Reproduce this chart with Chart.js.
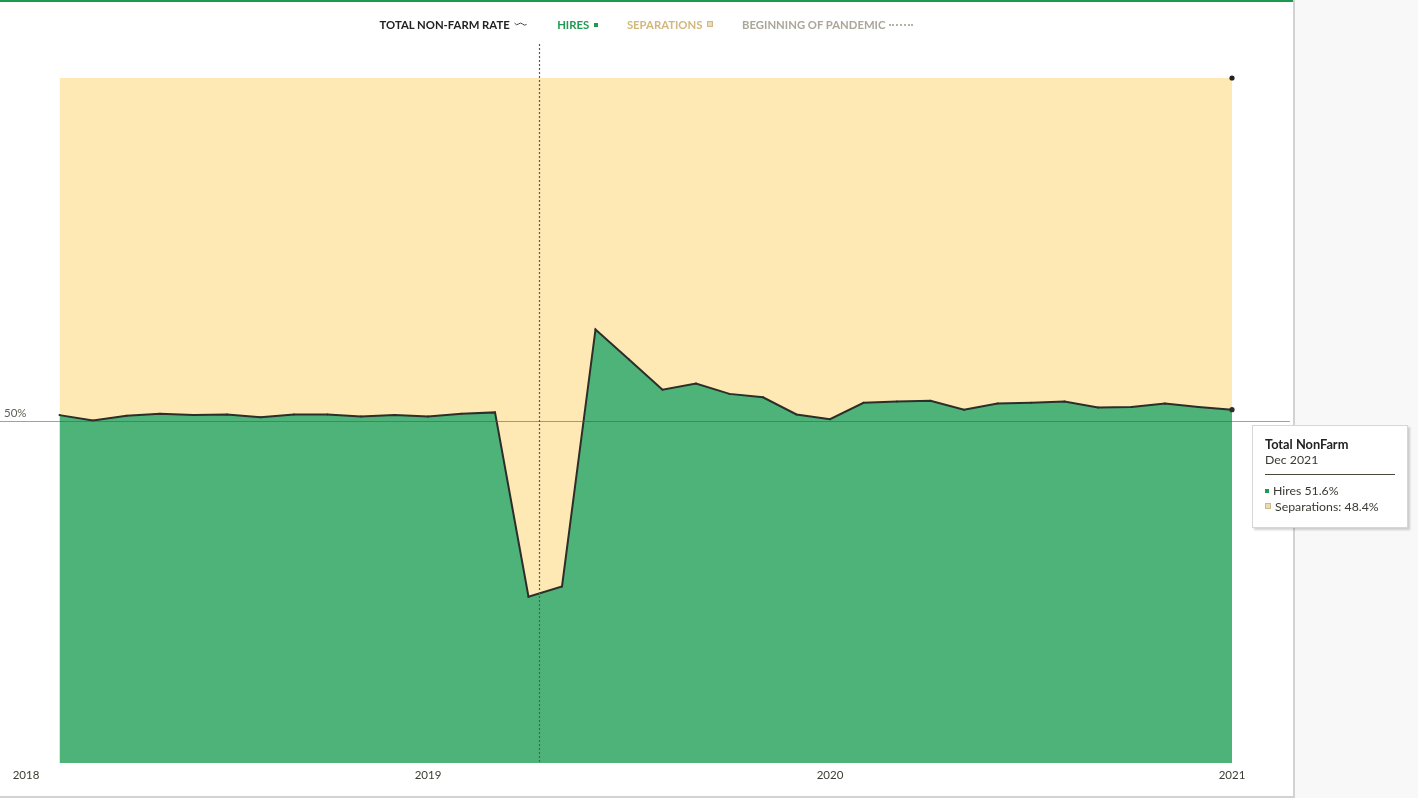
<!DOCTYPE html>
<html>
<head>
<meta charset="utf-8">
<title>Total NonFarm – Hires vs Separations</title>
<script src="https://cdn.jsdelivr.net/npm/chart.js@4.4.1/dist/chart.umd.min.js"></script>
<style>
  html, body { margin: 0; padding: 0; background: #f8f8f8; font-family: Lato, "Noto Sans", sans-serif; }
  #frame { position: absolute; left: 0; top: 0; width: 1293px; height: 796px; background: #fff; }
  #topline { position: absolute; left: 0; top: 0; width: 1293px; height: 2px; background: #1b9a4e; }
  #rightline { position: absolute; left: 1293px; top: 0; width: 2px; height: 798px; background: #d2d2d2; }
  #bottomline { position: absolute; left: 0; top: 796px; width: 1293px; height: 2px; background: #d2d2d2; }
  #chartBox { position: absolute; left: 0; top: 0; width: 1293px; height: 796px; }
  #legend { position: absolute; left: 0; top: 17px; width: 1293px; text-align: center; font-size: 11.3px; font-weight: bold; line-height: 16px; z-index: 2; }
  #legend .item { display: inline-block; margin: 0 13px; white-space: nowrap; }
  #legend .sq { display: inline-block; width: 4px; height: 4px; margin-left: 5px; vertical-align: 2px; }
  #legend .dots { display: inline-block; width: 24px; margin-left: 4px; border-bottom: 2px dotted #b5b2a8; vertical-align: 3px; }
  #tip { position: absolute; display: none; background: #fff; border: 1px solid #d6d6d6; box-shadow: 2px 2px 2px rgba(0,0,0,0.18);
         padding: 10px 12px 12px 12px; width: 130px; font-size: 12.3px; color: #3a3a32; line-height: 16px; z-index: 3; }
  #tip .t { font-weight: bold; font-size: 12.8px; color: #222; }
  #tip hr { border: 0; border-top: 1px solid #4a4a3c; margin: 6px 0 8px 0; }
  #tip .m { display: inline-block; width: 4px; height: 4px; margin-right: 4px; vertical-align: 2px; }
</style>
</head>
<body>
<div id="frame"></div>
<div id="topline"></div>
<div id="rightline"></div>
<div id="bottomline"></div>
<div id="legend">
  <span class="item" style="color:#222">TOTAL NON-FARM RATE
    <svg width="14" height="6" style="vertical-align:2px;margin-left:2px"><path d="M0.5 2 Q2.5 5 4.5 3 T8.5 3 T12.5 3.5" fill="none" stroke="#444" stroke-width="1"/></svg></span>
  <span class="item" style="color:#1f9a50">HIRES<span class="sq" style="background:#1f9a50"></span></span>
  <span class="item" style="color:#d2b77c">SEPARATIONS<span class="sq" style="background:#eadcb8;border:0.5px solid #cdb98a"></span></span>
  <span class="item" style="color:#aaa698">BEGINNING OF PANDEMIC<span class="dots"></span></span>
</div>
<div id="chartBox"><canvas id="rateChart"></canvas></div>
<div id="tip"></div>

<script>
// months shown in the chart (one point per month)
const months = [
  'Jan 2019', 'Feb 2019', 'Mar 2019', 'Apr 2019', 'May 2019', 'Jun 2019',
  'Jul 2019', 'Aug 2019', 'Sep 2019', 'Oct 2019', 'Nov 2019', 'Dec 2019',
  'Jan 2020', 'Feb 2020', 'Mar 2020', 'Apr 2020', 'May 2020', 'Jun 2020',
  'Jul 2020', 'Aug 2020', 'Sep 2020', 'Oct 2020', 'Nov 2020', 'Dec 2020',
  'Jan 2021', 'Feb 2021', 'Mar 2021', 'Apr 2021', 'May 2021', 'Jun 2021',
  'Jul 2021', 'Aug 2021', 'Sep 2021', 'Oct 2021', 'Nov 2021', 'Dec 2021'
];

// share of hires in hires + separations (%)
const hires = [
  50.8, 50.0, 50.7, 51.0, 50.8, 50.9, 50.5, 50.9, 50.9, 50.6, 50.8, 50.6,
  51.0, 51.2, 24.3, 25.8, 63.3, 58.9, 54.5, 55.4, 53.9, 53.4, 50.9, 50.2,
  52.6, 52.8, 52.9, 51.6, 52.5, 52.6, 52.8, 51.9, 52.0, 52.5, 52.0, 51.6
];

// share of separations (%)
const separations = [
  49.2, 50.0, 49.3, 49.0, 49.2, 49.1, 49.5, 49.1, 49.1, 49.4, 49.2, 49.4,
  49.0, 48.8, 75.7, 74.2, 36.7, 41.1, 45.5, 44.6, 46.1, 46.6, 49.1, 49.8,
  47.4, 47.2, 47.1, 48.4, 47.5, 47.4, 47.2, 48.1, 48.0, 47.5, 48.0, 48.4
];

// x axis labels and the point index they sit on
const tickLabels = ['2018', '2019', '2020', '2021'];
const tickIndex = [-1, 11, 23, 35];

const PANDEMIC_AT = 14.3;   // position on the month axis
const REFERENCE_LEVEL = 50; // the 50% line

const last = hires.length - 1;
const pointSize = (ctx) => (ctx.dataIndex === last ? 2.6 : 1);

// 50% line, its label and the pandemic marker
const guides = {
  id: 'guides',
  afterDatasetsDraw(chart) {
    const { ctx, chartArea, scales: { x, y } } = chart;
    const yMid = Math.round(y.getPixelForValue(REFERENCE_LEVEL)) + 0.5;
    ctx.save();
    ctx.strokeStyle = 'rgba(90,85,60,0.55)';
    ctx.lineWidth = 1;
    ctx.beginPath();
    ctx.moveTo(0, yMid);
    ctx.lineTo(chart.width - 3, yMid);
    ctx.stroke();

    ctx.fillStyle = '#5e5e56';
    ctx.font = '11.5px Lato, "Noto Sans", sans-serif';
    ctx.textBaseline = 'bottom';
    ctx.fillText('50%', 4, yMid - 2);

    const xp = Math.round(x.getPixelForValue(PANDEMIC_AT)) + 0.5;
    ctx.setLineDash([2, 2]);
    ctx.strokeStyle = '#5a5a5a';
    ctx.lineWidth = 1.2;
    ctx.beginPath();
    ctx.moveTo(xp, 44);
    ctx.lineTo(xp, chartArea.bottom);
    ctx.stroke();
    ctx.restore();
  }
};

function externalTooltip(context) {
  const { chart, tooltip } = context;
  const el = document.getElementById('tip');
  if (tooltip.opacity === 0 || !tooltip.dataPoints || !tooltip.dataPoints.length) {
    el.style.display = 'none';
    return;
  }
  const pt = tooltip.dataPoints[0];
  const i = pt.dataIndex;
  el.innerHTML =
    '<div class="t">Total NonFarm</div>' +
    '<div>' + months[i] + '</div>' +
    '<hr>' +
    '<div><span class="m" style="background:#1f9a50"></span>Hires ' + hires[i].toFixed(1) + '%</div>' +
    '<div><span class="m" style="background:#eadcb8;border:0.5px solid #cdb98a"></span>Separations: ' + separations[i].toFixed(1) + '%</div>';
  const r = chart.canvas.getBoundingClientRect();
  el.style.display = 'block';
  el.style.left = (r.left + pt.element.x + 20) + 'px';
  el.style.top = (r.top + pt.element.y + 15) + 'px';
}

const canvas = document.getElementById('rateChart');
const chart = new Chart(canvas.getContext('2d'), {
  type: 'line',
  data: {
    datasets: [{
      label: 'Hires',
      data: hires.map((v, i) => ({ x: i, y: v })),
      backgroundColor: '#4eb378',
      borderColor: '#2d2d2a',
      borderWidth: 2,
      fill: 'origin',
      tension: 0,
      clip: false,
      pointRadius: pointSize,
      pointHoverRadius: pointSize,
      pointBackgroundColor: '#2d2d2a',
      pointBorderWidth: 0,
      pointHoverBorderWidth: 0
    }, {
      label: 'Separations',
      data: separations.map((v, i) => ({ x: i, y: v })),
      backgroundColor: '#fee9b5',
      borderWidth: 0,
      borderColor: 'rgba(0,0,0,0)',
      fill: '-1',
      tension: 0,
      clip: false,
      pointRadius: (ctx) => (ctx.dataIndex === last ? 2.6 : 0),
      pointHoverRadius: (ctx) => (ctx.dataIndex === last ? 2.6 : 0),
      pointBackgroundColor: '#222',
      pointBorderWidth: 0,
      pointHoverBorderWidth: 0
    }]
  },
  options: {
    responsive: true,
    maintainAspectRatio: false,
    animation: false,
    events: [],
    layout: { padding: { top: 78, left: 26, right: 61, bottom: 9 } },
    interaction: { mode: 'index', intersect: false },
    plugins: {
      legend: { display: false },
      tooltip: { enabled: false, external: externalTooltip }
    },
    scales: {
      x: {
        type: 'linear',
        min: -1,
        max: last,
        grid: { display: false, drawTicks: false },
        border: { display: false },
        afterBuildTicks: (scale) => { scale.ticks = tickIndex.map(v => ({ value: v })); },
        ticks: {
          autoSkip: false,
          maxRotation: 0,
          padding: 5,
          color: '#3d3d33',
          font: { family: 'Lato, "Noto Sans", sans-serif', size: 11.5 },
          callback: (value) => tickLabels[tickIndex.indexOf(value)]
        }
      },
      y: {
        display: false,
        stacked: true,
        min: 0,
        max: 100
      }
    }
  },
  plugins: [guides]
});

chart.tooltip.setActiveElements(
  [{ datasetIndex: 0, index: last }, { datasetIndex: 1, index: last }],
  { x: 0, y: 0 }
);
chart.update();
</script>
</body>
</html>
